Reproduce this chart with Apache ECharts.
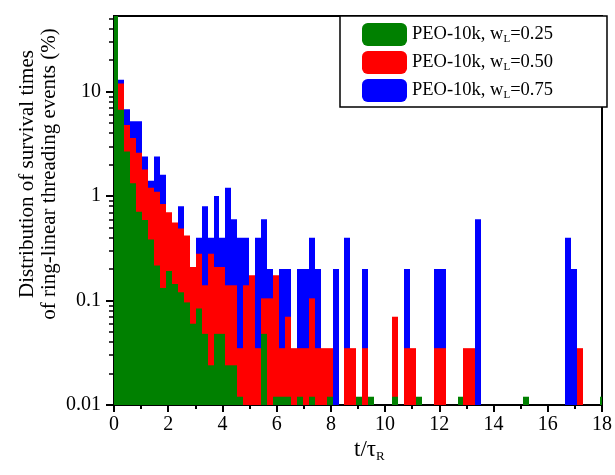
<!DOCTYPE html>
<html><head><meta charset="utf-8">
<script src="https://cdn.jsdelivr.net/npm/echarts@6/dist/echarts.min.js"></script>
<style>html,body{margin:0;padding:0;background:#fff}#c{width:615px;height:475px}</style>
</head><body><div id="c"></div>
<script>
// Histogram bins: width and centre of the first bin (in t/tau_R)
const BIN_WIDTH = 0.2195;
const FIRST_BIN_CENTER = 0.05;
const Y_MIN = 0.01, Y_MAX = 53;
const X_MIN = 0, X_MAX = 18, X_STEP = 2;
const Y_MAJOR_TICKS = [0.01, 0.1, 1, 10];
const Y_MINOR_TICKS = [0.02, 0.03, 0.04, 0.05, 0.06, 0.07, 0.08, 0.09,
  0.2, 0.3, 0.4, 0.5, 0.6, 0.7, 0.8, 0.9,
  2, 3, 4, 5, 6, 7, 8, 9,
  20, 30, 40, 50];

const SERIES_NAMES = ['PEO-10k, w_L=0.25', 'PEO-10k, w_L=0.50', 'PEO-10k, w_L=0.75'];
const SERIES_COLORS = ['#008000', '#ff0000', '#0000ff'];

// Distribution (%) per bin
const green_wL025 = [85, 6.7, 2.67, 1.33, 0.71, 0.59, 0.384, 0.216, 0.132, 0.192,
  0.144, 0.12, 0.096, 0.06, 0.084, 0.048, 0.024, 0.048, 0.048, 0.024,
  0.024, 0.012, 0, 0, 0, 0.048, 0, 0.012, 0.012, 0.012,
  0, 0.012, 0, 0.012, 0, 0, 0.012, 0, 0, 0,
  0, 0.012, 0, 0.012, 0, 0, 0, 0.012, 0, 0,
  0, 0.012, 0, 0, 0, 0, 0, 0, 0.012, 0,
  0, 0, 0, 0, 0, 0, 0, 0, 0, 0.012,
  0, 0, 0, 0, 0, 0, 0, 0, 0, 0,
  0, 0, 0.012];
const red_wL050 = [40, 12, 4.8, 3.6, 2.6, 1.8, 1.2, 1.1, 0.84, 0.7,
  0.56, 0.49, 0.42, 0.21, 0.28, 0.14, 0.28, 0.21, 0.21, 0.14,
  0.14, 0.035, 0.14, 0.175, 0.035, 0.105, 0.105, 0.175, 0.035, 0.07,
  0.035, 0.035, 0.035, 0.105, 0.035, 0.035, 0.035, 0, 0, 0.035,
  0.035, 0, 0.035, 0, 0, 0, 0, 0.07, 0, 0.035,
  0.035, 0, 0, 0, 0.035, 0.035, 0, 0, 0, 0.035,
  0.035, 0, 0, 0, 0, 0, 0, 0, 0, 0,
  0, 0, 0, 0, 0, 0, 0, 0, 0.035, 0,
  0, 0, 0];
const blue_wL075 = [45, 13, 6.8, 5.2, 5.2, 2.4, 1.4, 2.4, 1.6, 0.6,
  0.4, 0.8, 0.4, 0, 0.4, 0.8, 0.4, 1.0, 0.4, 1.2,
  0.6, 0.4, 0.4, 0, 0.4, 0.6, 0.2, 0, 0.2, 0.2,
  0, 0.2, 0.2, 0.4, 0.2, 0, 0, 0.2, 0, 0.4,
  0, 0, 0.2, 0, 0, 0, 0, 0, 0, 0.2,
  0, 0, 0, 0, 0.2, 0.2, 0, 0, 0, 0,
  0, 0.6, 0, 0, 0, 0, 0, 0, 0, 0,
  0, 0, 0, 0, 0, 0, 0.4, 0.2, 0, 0,
  0, 0, 0];

const FONT = 'Liberation Serif';

function toData(arr) {
  const out = [];
  arr.forEach((v, k) => { if (v > 0) out.push([FIRST_BIN_CENTER + k * BIN_WIDTH, v]); });
  return out;
}

function renderBar(params, api) {
  const c = api.value(0), v = api.value(1);
  if (!(v > 0)) return null;
  const p0 = api.coord([c - BIN_WIDTH / 2, v]);
  const p1 = api.coord([c + BIN_WIDTH / 2, Y_MIN]);
  const cs = params.coordSys;
  const xa = Math.round(p0[0]), xb = Math.round(p1[0]);
  const shape = echarts.graphic.clipRectByRect(
    { x: xa, y: p0[1], width: xb - xa, height: p1[1] - p0[1] },
    { x: cs.x, y: cs.y, width: cs.width, height: cs.height });
  if (!shape) return null;
  return { type: 'rect', shape: shape, style: { fill: api.visual('color') } };
}

const allData = [green_wL025, red_wL050, blue_wL075];
const drawOrder = [2, 1, 0]; // blue at back, green in front
const series = drawOrder.map(i => ({
  type: 'custom', name: SERIES_NAMES[i], color: SERIES_COLORS[i],
  itemStyle: { color: SERIES_COLORS[i] },
  renderItem: renderBar, clip: true,
  encode: { x: 0, y: 1 }, data: toData(allData[i])
}));

// second (value) axis holding the decade positions, used only for minor ticks
const LOG_MIN = Math.log10(Y_MIN), LOG_MAX = Math.log10(Y_MAX);

const chart = echarts.init(document.getElementById('c'), null, { renderer: 'canvas' });
chart.setOption({
  animation: false,
  backgroundColor: '#fff',
  grid: { left: 114, right: 9, top: 16, bottom: 70, show: true, borderColor: '#000', borderWidth: 2, backgroundColor: 'transparent' },
  legend: {
    left: 340, top: 16, orient: 'vertical',
    data: SERIES_NAMES.map(n => ({ name: n, icon: 'roundRect' })),
    itemWidth: 45, itemHeight: 23, itemGap: 5,
    padding: [7, 54, 5, 22],
    borderColor: '#000', borderWidth: 1.5, backgroundColor: '#fff',
    formatter: n => n.replace('w_L', 'w{s|L}'),
    textStyle: { fontFamily: FONT, fontSize: 18.5, color: '#000',
      rich: { s: { fontFamily: FONT, fontSize: 11, color: '#000', padding: [10, 0, 0, 0] } } },
    selectedMode: false
  },
  xAxis: {
    type: 'value', min: X_MIN, max: X_MAX, interval: X_STEP,
    axisLine: { show: true, onZero: false, lineStyle: { color: '#000', width: 2 } },
    axisTick: { show: true, inside: false, length: 7, lineStyle: { color: '#000', width: 2 } },
    minorTick: { show: true, splitNumber: 2, length: 4, lineStyle: { color: '#000', width: 2 } },
    axisLabel: { fontFamily: FONT, fontSize: 20, color: '#000', margin: 10 },
    splitLine: { show: false }
  },
  yAxis: [{
    type: 'log', logBase: 10, min: Y_MIN, max: Y_MAX,
    axisLine: { show: true, lineStyle: { color: '#000', width: 2 } },
    axisTick: { show: true, inside: false, length: 8, lineStyle: { color: '#000', width: 2 } },
    minorTick: { show: false },
    axisLabel: { fontFamily: FONT, fontSize: 20, color: '#000', margin: 13, showMaxLabel: false,
      formatter: v => String(+Number(v).toPrecision(2)) },
    splitLine: { show: false }, minorSplitLine: { show: false }
  }, {
    type: 'value', min: LOG_MIN, max: LOG_MAX, position: 'left',
    axisLine: { show: false },
    axisTick: { show: true, inside: false, length: 5, lineStyle: { color: '#000', width: 1.5 },
      customValues: Y_MINOR_TICKS.map(v => Math.log10(v)) },
    axisLabel: { show: false },
    splitLine: { show: false }
  }],
  graphic: [
    { type: 'text', x: 38, y: 174, rotation: Math.PI / 2,
      style: { text: 'Distribution of survival times\nof ring-linear threading events (%)',
        fontFamily: FONT, fontSize: 21, fill: '#000', align: 'center', verticalAlign: 'middle', lineHeight: 22 } },
    { type: 'text', left: 354, top: 438,
      style: { text: '{a|t/τ}{s|R}', fill: '#000',
        rich: { a: { fontFamily: FONT, fontSize: 23, fill: '#000' },
                s: { fontFamily: FONT, fontSize: 13, fill: '#000', padding: [14, 0, 0, 0] } } } }
  ],
  series: series
});
</script>
</body></html>
